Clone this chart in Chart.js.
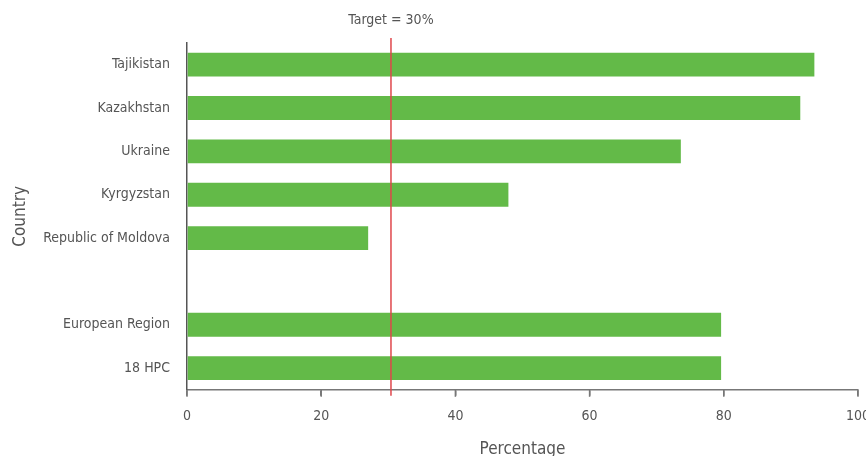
<!DOCTYPE html>
<html>
<head>
<meta charset="utf-8">
<script src="https://cdn.jsdelivr.net/npm/chart.js@4"></script>
<style>
  html, body { margin: 0; padding: 0; background: #fff; overflow: hidden; }
  #wrap { width: 882px; height: 464px; }
</style>
</head>
<body>
<div id="wrap"><canvas id="barChart"></canvas></div>
<script>
const countries = ['Tajikistan', 'Kazakhstan', 'Ukraine', 'Kyrgyzstan', 'Republic of Moldova', '', 'European Region', '18 HPC'];
const percentages = [93.5, 91.4, 73.6, 47.9, 27.0, null, 79.6, 79.6];
const xTicks = [0, 20, 40, 60, 80, 100];
const targetValue = 30.4;
const targetLabel = 'Target = 30%';

const FONT = "'DejaVu Sans Condensed', 'Liberation Sans Narrow', 'Noto Sans', sans-serif";
const TEXT = '#555';

// линия цели, подпись над ней и засечки оси X
const targetLine = {
  id: 'targetLine',
  afterDatasetsDraw(chart) {
    const { ctx, chartArea, scales } = chart;
    const x = scales.x.getPixelForValue(targetValue);
    ctx.save();
    ctx.strokeStyle = '#777';
    ctx.lineWidth = 1.5;
    xTicks.forEach(v => {
      const tx = scales.x.getPixelForValue(v);
      ctx.beginPath();
      ctx.moveTo(tx, chartArea.bottom);
      ctx.lineTo(tx, chartArea.bottom + 7);
      ctx.stroke();
    });
    ctx.strokeStyle = '#e0474c';
    ctx.beginPath();
    ctx.moveTo(x, chartArea.top - 5);
    ctx.lineTo(x, chartArea.bottom + 6);
    ctx.stroke();
    ctx.fillStyle = TEXT;
    ctx.font = "14px " + FONT;
    ctx.textAlign = 'center';
    ctx.textBaseline = 'middle';
    ctx.fillText(targetLabel, x, 20);
    ctx.restore();
  }
};

function initChart() {
  const ctx = document.getElementById('barChart').getContext('2d');
  new Chart(ctx, {
    type: 'bar',
    data: {
      labels: countries,
      datasets: [{
        label: 'Percentage',
        data: percentages,
        backgroundColor: '#63ba48',
        categoryPercentage: 1.0,
        barPercentage: 0.55
      }]
    },
    options: {
      indexAxis: 'y',
      responsive: true,
      maintainAspectRatio: false,
      animation: false,
      layout: { padding: { top: 43, left: 6, right: 0, bottom: 0 } },
      plugins: {
        legend: { display: false },
        tooltip: { enabled: false }
      },
      scales: {
        x: {
          min: 0,
          max: 100,
          afterBuildTicks: (scale) => { scale.ticks = xTicks.map(v => ({ value: v })); },
          grid: { drawOnChartArea: false, drawTicks: true, tickLength: 6, color: '#777', lineWidth: 1.5 },
          border: { color: '#777', width: 1.5 },
          ticks: { color: TEXT, font: { family: FONT, size: 14 }, padding: 12 },
          title: { display: true, text: 'Percentage', color: TEXT, font: { family: FONT, size: 17 }, padding: { top: 3 } }
        },
        y: {
          afterFit: (scale) => { scale.width = 181; },
          grid: { display: false, drawTicks: false },
          border: { color: '#555', width: 1.5 },
          ticks: { color: TEXT, font: { family: FONT, size: 14 }, padding: 17 },
          title: { display: true, text: 'Country', color: TEXT, font: { family: FONT, size: 17 } }
        }
      }
    },
    plugins: [targetLine]
  });
}

document.addEventListener('DOMContentLoaded', () => {
  initChart();
});
</script>
</body>
</html>
